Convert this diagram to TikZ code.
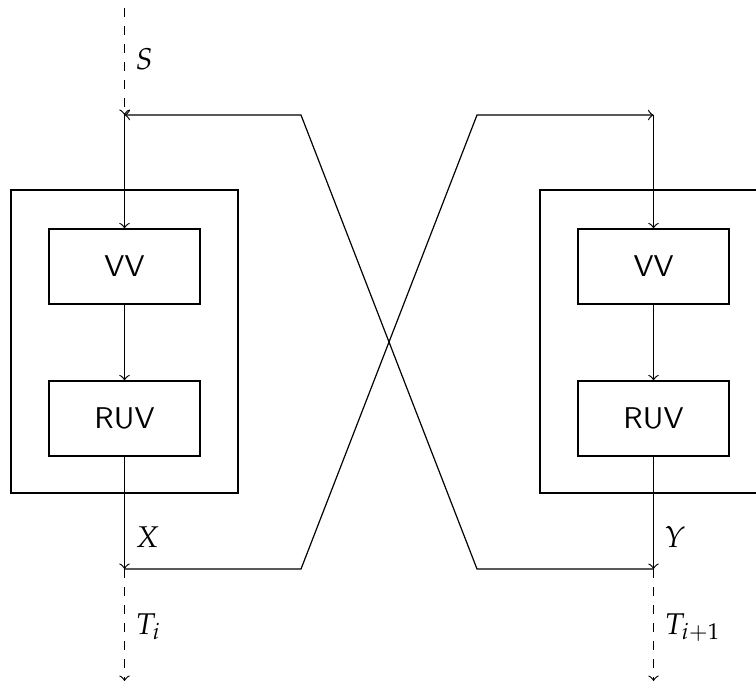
\documentclass[tikz,border=0pt]{standalone}
\usepackage{mathpazo}
\begin{document}
\begin{tikzpicture}[x=0.3333pt,y=-0.3333pt, line width=0.4pt,
  blk/.style={draw, minimum width=50.33pt, minimum height=25pt, inner sep=0pt, font=\sffamily},
  outer/.style={draw, minimum width=75.67pt, minimum height=101pt, inner sep=0pt},
  lbl/.style={anchor=base west, inner sep=0pt},
  flow/.style={->},
  ext/.style={->, dashed}]
\useasboundingbox (0,0) rectangle (756,686);
\clip (0,0) rectangle (756,686);
% left unit
\node[outer] (L) at (124.5,341.5) {};
\node[blk] (vvL) at (124.5,266.5) {VV};
\node[blk] (ruvL) at (124.5,418.5) {RUV};
% right unit
\node[outer] (R) at (653.5,341.5) {};
\node[blk] (vvR) at (653.5,266.5) {VV};
\node[blk] (ruvR) at (653.5,418.5) {RUV};
% coordinates
\coordinate (Lin) at (124.5,-10);
\coordinate (Ltop) at (124.5,115);
\coordinate (Lbot) at (124.5,569);
\coordinate (Lend) at (124.5,681);
\coordinate (Rtop) at (653.5,115);
\coordinate (Rbot) at (653.5,569);
\coordinate (Rend) at (653.5,681);
\coordinate (a1) at (301,569);
\coordinate (a2) at (477,115);
\coordinate (b1) at (477,569);
\coordinate (b2) at (301,115);
% left flow
\draw[ext] (Lin) -- (Ltop);
\draw[flow] (Ltop) -- (vvL.north);
\draw[flow] (vvL) -- (ruvL);
\draw[flow] (ruvL.south) -- (Lbot);
\draw[ext] (Lbot) -- (Lend);
% right flow
\draw[flow] (Rtop) -- (vvR.north);
\draw[flow] (vvR) -- (ruvR);
\draw[flow] (ruvR.south) -- (Rbot);
\draw[ext] (Rbot) -- (Rend);
% crossing
\draw[flow] (Lbot) -- (a1) -- (a2) -- (Rtop);
\draw[flow] (Rbot) -- (b1) -- (b2) -- (Ltop);
% labels
\node[lbl] (S) at (135,69) {$S$};
\node[lbl] (X) at (135,547) {$X$};
\node[lbl] (Ti) at (135,634) {$T_i$};
\node[lbl] (Y) at (664,547) {$Y$};
\node[lbl] (Tj) at (664,634) {$T_{i+1}$};
\end{tikzpicture}
\end{document}
